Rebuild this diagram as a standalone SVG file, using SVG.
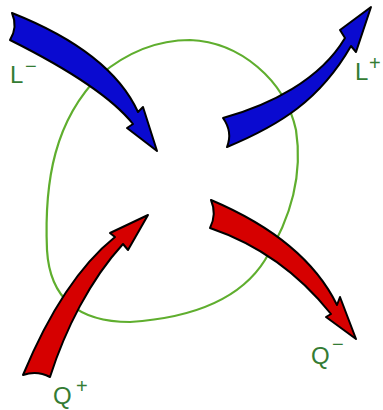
<svg xmlns="http://www.w3.org/2000/svg" width="383" height="410" viewBox="0 0 383 410">
<style>
.loop{fill:none;stroke:#5fae2e;stroke-width:2.2}
.arr{stroke:#000;stroke-width:2;stroke-linejoin:round}
.blue{fill:#0a0ad0}
.red{fill:#d60000}
.lbl{font-family:"Liberation Sans",Arial,sans-serif;font-size:24px;fill:#347c34}
.sup{font-family:"Liberation Sans",Arial,sans-serif;font-size:20px;fill:#347c34}
</style>
<rect width="383" height="410" fill="#fff"/>
<g id="system">
<path class="loop" d="M190,40 C240,42 285,80 296,130 C303,175 290,220 265,260 C240,300 190,318 130,322 C80,322 50,300 47,250 C44,180 55,120 100,75 C130,50 160,40 190,40 Z"/>
</g>
<g id="connectors">
<path id="Lminus" class="arr blue" d="M12,13 C60,32 115,62 138,112 L143,107 L157,151 L127,128 L133,124 C110,95 60,65 10,40 Q18,27 12,13 Z"/>
<path id="Lplus" class="arr blue" d="M223,118 C270,105 320,80 345,38 L340,30 L371,7 L356,52 L351,46 C320,100 280,125 227,147 Q233,132 223,118 Z"/>
<path id="Qplus" class="arr red" d="M23,375 C50,310 80,265 115,237 L110,233 L148,215 L128,250 L123,244 C90,280 65,330 50,377 Q37,370 23,375 Z"/>
<path id="Qminus" class="arr red" d="M211,200 C270,225 315,260 337,305 L340,297 L356,339 L326,317 L331,314 C300,275 260,245 210,228 Q217,214 211,200 Z"/>
</g>
<g id="label-Lminus"><text class="lbl" x="10" y="83">L</text><text class="sup" x="25" y="73" font-size="16">−</text></g>
<g id="label-Lplus"><text class="lbl" x="355" y="80">L</text><text class="sup" x="369" y="70" font-size="18">+</text></g>
<g id="label-Qplus"><text class="lbl" x="53" y="404">Q</text><text class="sup" x="76" y="393">+</text></g>
<g id="label-Qminus"><text class="lbl" x="311" y="364">Q</text><text class="sup" x="332" y="351" font-size="14">−</text></g>
</svg>
